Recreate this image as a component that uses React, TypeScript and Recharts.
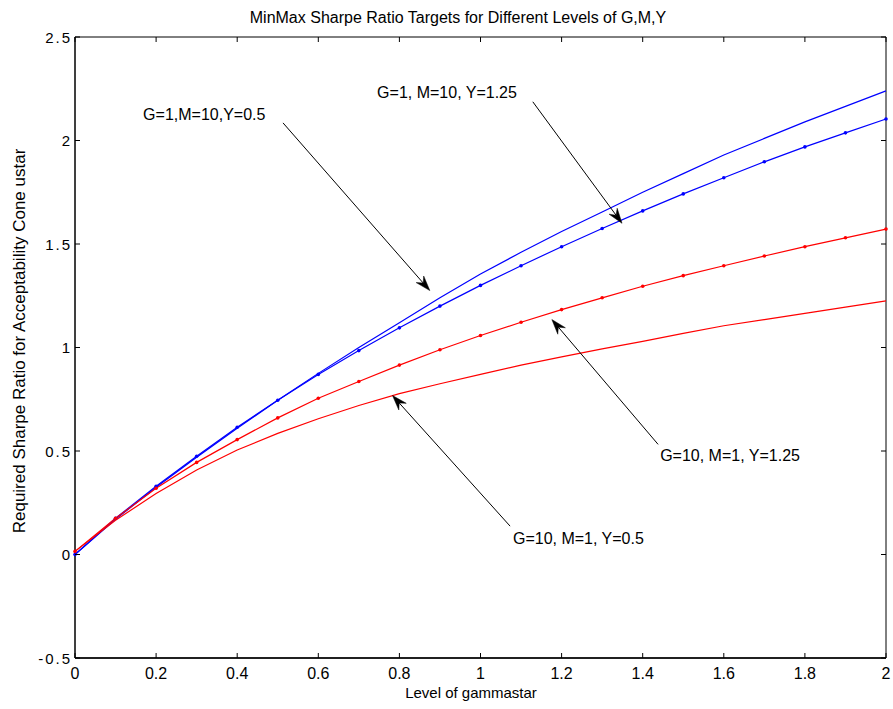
import React from "react";
import {
  LineChart,
  Line,
  XAxis,
  YAxis,
  ReferenceArea,
  ReferenceLine,
  ReferenceDot,
} from "recharts";

// level of gammastar, sampled every 0.1
const gammastar = [0, 0.1, 0.2, 0.3, 0.4, 0.5, 0.6, 0.7, 0.8, 0.9, 1, 1.1, 1.2, 1.3, 1.4, 1.5, 1.6, 1.7, 1.8, 1.9, 2];

const g1m10y05 = [0, 0.17, 0.325, 0.47, 0.61, 0.745, 0.875, 1.0, 1.12, 1.24, 1.355, 1.46, 1.56, 1.655, 1.75, 1.84, 1.93, 2.01, 2.09, 2.165, 2.24];
const g1m10y125 = [0, 0.175, 0.33, 0.475, 0.615, 0.745, 0.87, 0.985, 1.095, 1.2, 1.3, 1.395, 1.487, 1.575, 1.66, 1.742, 1.82, 1.897, 1.969, 2.037, 2.104];
const g10m1y125 = [0.015, 0.175, 0.32, 0.445, 0.555, 0.66, 0.755, 0.836, 0.915, 0.989, 1.058, 1.122, 1.183, 1.24, 1.296, 1.347, 1.395, 1.442, 1.487, 1.53, 1.572];
const g10m1y05 = [0.015, 0.165, 0.295, 0.408, 0.505, 0.585, 0.656, 0.72, 0.777, 0.825, 0.87, 0.915, 0.955, 0.993, 1.03, 1.068, 1.105, 1.135, 1.165, 1.195, 1.225];

const xTicks = [0, 0.2, 0.4, 0.6, 0.8, 1, 1.2, 1.4, 1.6, 1.8, 2];
const yTicks = [-0.5, 0, 0.5, 1, 1.5, 2, 2.5];

// annotation text (left, baseline) and arrows, in data units
const noteText = ["G=1,M=10,Y=0.5", "G=1, M=10, Y=1.25", "G=10, M=1, Y=1.25", "G=10, M=1, Y=0.5"];
const noteAt = [[0.168, 2.1], [0.745, 2.205], [1.443, 0.45], [1.08, 0.05]];
const arrowFrom = [[0.513, 2.085], [1.129, 2.187], [1.438, 0.532], [1.073, 0.137]];
const arrowTo = [[0.875, 1.275], [1.349, 1.6], [1.176, 1.135], [0.783, 0.768]];

const data = gammastar.map((g, i) => ({
  g,
  a: g1m10y05[i],
  b: g1m10y125[i],
  c: g10m1y125[i],
  d: g10m1y05[i],
}));

const W = 893;
const H = 709;
const TOP = 37;
const LEFT = 75;
const RIGHT = 886;
const BOTTOM = 658;
const FONT = "'Liberation Sans', Arial, sans-serif";
const BLUE = "#0000FF";
const RED = "#FF0000";

function XTick(props: any) {
  const { x, payload } = props;
  return (
    <g>
      <line x1={x} x2={x} y1={BOTTOM} y2={BOTTOM - 5} stroke="#000" />
      <line x1={x} x2={x} y1={TOP} y2={TOP + 5} stroke="#000" />
      <text x={x} y={679} textAnchor="middle" fontSize={16} fontFamily={FONT} fill="#000">
        {String(payload.value)}
      </text>
    </g>
  );
}

function YTick(props: any) {
  const { y, payload } = props;
  return (
    <g>
      <line x1={LEFT} x2={LEFT + 5} y1={y} y2={y} stroke="#000" />
      <line x1={RIGHT - 5} x2={RIGHT} y1={y} y2={y} stroke="#000" />
      <text x={72} y={y + 5.5} textAnchor="end" fontSize={15} letterSpacing={2} fontFamily={FONT} fill="#000">
        {String(payload.value)}
      </text>
    </g>
  );
}

function Arrow(props: any) {
  const { x1, y1, x2, y2 } = props;
  const len = Math.hypot(x2 - x1, y2 - y1) || 1;
  const ux = (x2 - x1) / len;
  const uy = (y2 - y1) / len;
  const nx = -uy;
  const ny = ux;
  const bx = x2 - ux * 15;
  const by = y2 - uy * 15;
  const pts = [
    [x2, y2],
    [bx + nx * 5, by + ny * 5],
    [x2 - ux * 10, y2 - uy * 10],
    [bx - nx * 5, by - ny * 5],
  ]
    .map((p) => p.join(","))
    .join(" ");
  return (
    <g>
      <line x1={x1} y1={y1} x2={x2 - ux * 10} y2={y2 - uy * 10} stroke="#000" strokeWidth={1} />
      <polygon points={pts} fill="#000" stroke="#000" strokeWidth={0.5} />
    </g>
  );
}

export default function App() {
  return (
    <div style={{ position: "absolute", left: 0, top: 0, background: "#fff" }}>
      <LineChart width={W} height={H} data={data} margin={{ top: TOP, right: W - RIGHT, bottom: 0, left: 0 }}>
        <XAxis
          dataKey="g"
          type="number"
          domain={[0, 2]}
          ticks={xTicks}
          interval={0}
          height={H - BOTTOM}
          tickLine={false}
          axisLine={{ stroke: "#000", strokeWidth: 1.5 }}
          tick={<XTick />}
        />
        <YAxis
          type="number"
          domain={[-0.5, 2.5]}
          ticks={yTicks}
          interval={0}
          width={LEFT}
          tickLine={false}
          axisLine={{ stroke: "#000" }}
          tick={<YTick />}
        />
        <ReferenceArea x1={0} x2={2} y1={-0.5} y2={2.5} fill="none" stroke="#000" strokeWidth={1} ifOverflow="visible" />

        <Line dataKey="a" stroke={BLUE} strokeWidth={1.2} dot={false} isAnimationActive={false} />
        <Line dataKey="b" stroke={BLUE} strokeWidth={1.2} dot={{ r: 1.8, fill: BLUE, stroke: "none" }} isAnimationActive={false} />
        <Line dataKey="c" stroke={RED} strokeWidth={1.2} dot={{ r: 1.8, fill: RED, stroke: "none" }} isAnimationActive={false} />
        <Line dataKey="d" stroke={RED} strokeWidth={1.2} dot={false} isAnimationActive={false} />

        {noteText.map((t, i) => (
          <ReferenceLine
            key={"arrow" + i}
            segment={[
              { x: arrowFrom[i][0], y: arrowFrom[i][1] },
              { x: arrowTo[i][0], y: arrowTo[i][1] },
            ]}
            ifOverflow="visible"
            shape={(p: any) => <Arrow {...p} />}
          />
        ))}
        {noteText.map((t, i) => (
          <ReferenceDot
            key={"note" + i}
            x={noteAt[i][0]}
            y={noteAt[i][1]}
            r={1}
            ifOverflow="visible"
            shape={(p: any) => (
              <text x={p.cx} y={p.cy} fontSize={16} fontFamily={FONT} fill="#000">
                {t}
              </text>
            )}
          />
        ))}

        <text x={458} y={23} textAnchor="middle" fontSize={16} fontFamily={FONT} fill="#000">
          MinMax Sharpe Ratio Targets for Different Levels of G,M,Y
        </text>
        <text x={471} y={698} textAnchor="middle" fontSize={15} fontFamily={FONT} fill="#000">
          Level of gammastar
        </text>
        <text
          x={25}
          y={341}
          transform="rotate(-90 25 341)"
          textAnchor="middle"
          fontSize={17}
          fontFamily={FONT}
          fill="#000"
        >
          Required Sharpe Ratio for Acceptability Cone ustar
        </text>
      </LineChart>
    </div>
  );
}
